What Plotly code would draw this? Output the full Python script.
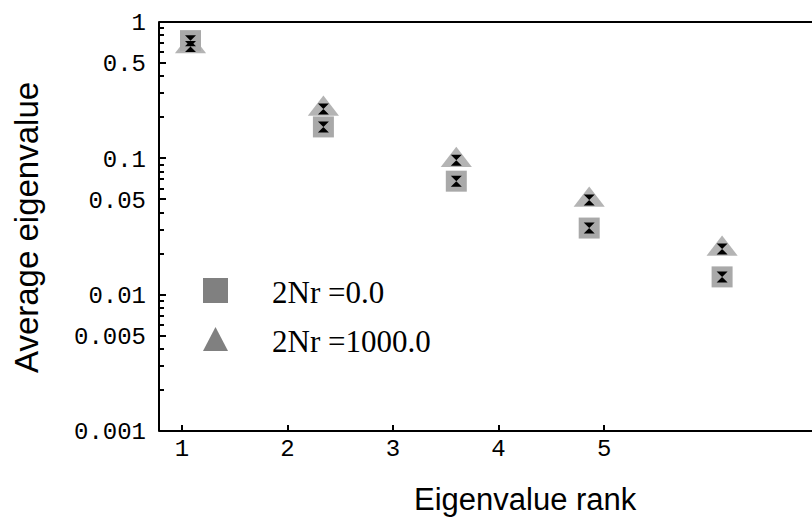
import plotly.graph_objects as go

# ---- data ----
ranks = [1, 2, 3, 4, 5]
series_names = ["2Nr =0.0", "2Nr =1000.0"]
eig_nr0 = [0.73, 0.170, 0.068, 0.0308, 0.0135]
eig_nr1000 = [0.66, 0.230, 0.097, 0.0494, 0.0216]
x_tick_labels = ["1", "2", "3", "4", "5"]
y_tick_vals = [0.001, 0.005, 0.01, 0.05, 0.1, 0.5, 1]
y_tick_text = ["0.001", "0.005", "0.01", "0.05", "0.1", "0.5", "1"]

# figure is a bit wider than the 812px window: the original frame runs past the right edge
W, H = 840, 529
L, R, T, B = 159, 0, 22, 98
pw = W - L - R
ph = H - T - B

def px(x):
    return (x - L) / pw

def py(y):
    return (H - B - y) / ph

# the original figure's rank ticks sit on a tighter grid than the plotted points
x_range = [0.763, 0.763 + pw / 132.9]
tick_start, tick_step = 0.936, 0.794
x_tick_pos = [tick_start + tick_step * i for i in range(len(x_tick_labels))]

fig = go.Figure()

sq_color = "#a9a9a9"
tri_color = "#b4b4b4"

fig.add_trace(go.Scatter(x=ranks, y=eig_nr1000, mode="markers",
                         marker=dict(symbol="triangle-up", size=27, color=tri_color, line=dict(width=0)),
                         showlegend=False, hoverinfo="skip"))
fig.add_trace(go.Scatter(x=ranks, y=eig_nr0, mode="markers",
                         marker=dict(symbol="square", size=21, color=sq_color, line=dict(width=0)),
                         showlegend=False, hoverinfo="skip"))
for vals in (eig_nr1000, eig_nr0):
    fig.add_trace(go.Scatter(x=ranks, y=vals, mode="markers",
                             marker=dict(symbol="hourglass", size=11, color="black", line=dict(width=0)),
                             showlegend=False, hoverinfo="skip"))

mono = dict(family="Liberation Mono", size=24, color="black")

minor_vals = []
for d in (0.001, 0.01, 0.1):
    for k in range(2, 10):
        minor_vals.append(round(d * k, 6))

fig.update_layout(
    template="none",
    width=W, height=H,
    margin=dict(l=L, r=R, t=T, b=B, pad=0),
    paper_bgcolor="white", plot_bgcolor="white",
    showlegend=False,
    xaxis=dict(range=x_range, tickvals=x_tick_pos, ticktext=x_tick_labels,
               ticks="inside", ticklen=6, tickwidth=1.5, tickcolor="black",
               showline=False, mirror=False, automargin=False,
               showgrid=False, zeroline=False, tickfont=mono, ticklabelstandoff=0),
    yaxis=dict(type="log", range=[-3, 0], tickvals=y_tick_vals, ticktext=y_tick_text,
               ticks="inside", ticklen=7, tickwidth=1.5, tickcolor="black",
               minor=dict(tickvals=minor_vals, ticks="inside", ticklen=5, tickwidth=1.5, tickcolor="black", showgrid=False),
               showline=False, mirror=False, automargin=False,
               showgrid=False, zeroline=False, tickfont=mono, ticklabelstandoff=12),
)

# frame lines (left, bottom, top)
frame = dict(color="black", width=2)
fig.add_shape(type="line", xref="paper", yref="paper", x0=0, x1=0, y0=-0.002, y1=1.002, line=frame, layer="above")
fig.add_shape(type="line", xref="paper", yref="paper", x0=0, x1=1, y0=0, y1=0, line=frame, layer="above")
fig.add_shape(type="line", xref="paper", yref="paper", x0=0, x1=1, y0=1, y1=1, line=frame, layer="above")

# axis titles
fig.add_annotation(text="Average eigenvalue", xref="paper", yref="paper", x=px(26), y=py(228),
                   showarrow=False, textangle=-90, xanchor="center", yanchor="middle",
                   font=dict(family="Liberation Sans", size=33, color="black"))
fig.add_annotation(text="Eigenvalue rank", xref="paper", yref="paper", x=px(525), y=py(499),
                   showarrow=False, xanchor="center", yanchor="middle",
                   font=dict(family="Liberation Sans", size=31, color="black"))

# legend (drawn manually to allow large symbols)
leg_color = "#808080"
fig.add_shape(type="rect", xref="paper", yref="paper", x0=px(203), x1=px(228), y0=py(303), y1=py(278),
              fillcolor=leg_color, line=dict(width=0))
fig.add_shape(type="path", xref="paper", yref="paper",
              path=f"M {px(203)} {py(351)} L {px(228)} {py(351)} L {px(215.5)} {py(327)} Z",
              fillcolor=leg_color, line=dict(width=0))
for name, yc in zip(series_names, (292, 341)):
    fig.add_annotation(text=name, xref="paper", yref="paper", x=px(270), y=py(yc),
                       showarrow=False, xanchor="left", yanchor="middle",
                       font=dict(family="Liberation Serif", size=31, color="black"))

fig.write_html("out.html", config={"displayModeBar": False},
               post_script="document.body.style.margin='0';document.body.style.overflow='hidden';")
